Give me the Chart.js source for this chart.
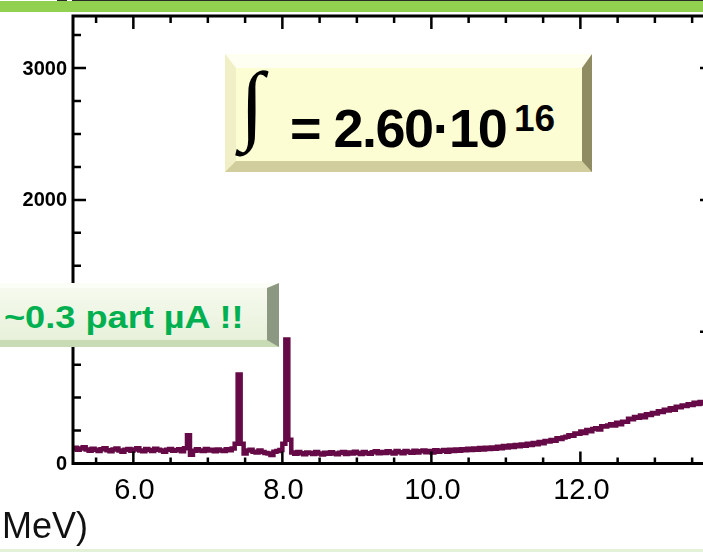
<!DOCTYPE html>
<html>
<head>
<meta charset="utf-8">
<script src="https://cdn.jsdelivr.net/npm/chart.js@4.4.0/dist/chart.umd.min.js"></script>
<style>
  html, body { margin: 0; padding: 0; background: #fff; overflow: hidden; width: 703px; height: 552px; position: relative; }
  #spectrum { position: absolute; left: 0; top: 0; }
  #topRule { position: absolute; left: 72px; top: 0; width: 640px; height: 1px; background: #2a2a2a; }
  #topRuleStub { position: absolute; left: 57px; top: 0; width: 10px; height: 1px; background: #2a2a2a; }
  #topBar { position: absolute; left: 0; top: 1px; width: 703px; height: 11px; background: #92d050; }
  #bottomRule { position: absolute; left: 0; top: 549px; width: 703px; height: 3px; background: #e3f1d6; }

  #intBox {
    position: absolute; left: 225px; top: 54px; width: 367px; height: 118px; box-sizing: border-box;
    background: #fdfdd4; border-style: solid; border-width: 14px 10px 11px 11px;
    border-color: #fffff1 #8f8b63 #d2cd9c #f0efc6;
  }
  #intSign { position: absolute; left: 240px; top: 60px; font: 88px/88px "Liberation Serif", "DejaVu Serif", serif; color: #000; }
  #intValue { position: absolute; left: 290px; top: 101px; font: bold 54px/54px "Liberation Sans", Arial, sans-serif; letter-spacing: -1.5px; color: #000; white-space: nowrap; }
  #intExp { position: absolute; left: 514px; top: 100px; font: bold 37px/37px "Liberation Sans", Arial, sans-serif; color: #000; }

  #currentBox {
    position: absolute; left: -20px; top: 283px; width: 299px; height: 64px; box-sizing: border-box;
    background: linear-gradient(#f6faee, #e7f1da); border-style: solid; border-width: 5px 12px 7px 6px;
    border-color: #fbfdf7 #8c9882 #c8dbb4 #eef5e4;
  }
  #currentText { position: absolute; left: 4px; top: 301px; font: bold 32px/32px "Liberation Sans", Arial, sans-serif; color: #00b050; white-space: nowrap; transform: scaleX(1.13); transform-origin: left center; }
  #unitLabel { position: absolute; left: 2px; top: 508px; font: 36px/36px "Liberation Sans", Arial, sans-serif; color: #111; white-space: nowrap; }
</style>
</head>
<body>
<canvas id="spectrum" width="720" height="552"></canvas>
<div id="topRuleStub"></div>
<div id="topRule"></div>
<div id="topBar"></div>
<div id="intBox"></div>
<span id="intSign">∫</span>
<span id="intValue">= 2.60·10</span>
<span id="intExp">16</span>
<div id="currentBox"></div>
<span id="currentText">~0.3 part µA !!</span>
<div id="unitLabel">MeV)</div>
<div id="bottomRule"></div>

<script>
// Energy calibration of the channels (MeV)
const E_START = 5.18;
const E_STEP = 0.04;

// Counts per channel, 5.18 ... 13.78 MeV
const counts = [
  112, 120, 104, 114, 124, 106, 96, 112, 104, 94,     // 5.18
  108, 116, 100, 92, 106, 114, 98, 90, 104, 110,      // 5.58
  96, 106, 116, 98, 92, 110, 102, 94, 112, 104,       // 5.98
  98, 90, 104, 110, 96, 100, 108, 92, 116, 215,       // 6.38
  66, 96, 108, 98, 94, 110, 98, 104, 92, 106,         // 6.78
  98, 94, 108, 100, 114, 150, 675, 150, 76, 98,       // 7.18
  104, 90, 84, 98, 88, 80, 76, 64, 90, 94,            // 7.58
  102, 150, 940, 180, 84, 74, 88, 78, 70, 84,         // 7.98
  80, 72, 88, 76, 68, 82, 74, 86, 76, 70,             // 8.38
  82, 88, 72, 84, 76, 90, 80, 72, 88, 78,             // 8.78
  74, 86, 92, 78, 88, 80, 92, 84, 76, 94,             // 9.18
  86, 78, 94, 88, 82, 96, 84, 92, 98, 86,             // 9.58
  94, 84, 100, 90, 96, 102, 90, 104, 94, 106,         // 9.98
  96, 108, 100, 112, 102, 114, 104, 118, 106, 120,    // 10.38
  110, 122, 112, 128, 116, 132, 122, 136, 126, 140,   // 10.78
  130, 144, 134, 150, 140, 156, 146, 164, 154, 170,   // 11.18
  166, 178, 172, 192, 186, 198, 202, 214, 210, 228,   // 11.58
  226, 242, 232, 254, 244, 262, 268, 258, 282, 280,   // 11.98
  288, 298, 288, 310, 298, 316, 316, 340, 336, 352,   // 12.38
  348, 364, 350, 374, 368, 384, 380, 396, 390, 408,   // 12.78
  402, 420, 408, 430, 426, 440, 436, 450, 444, 460,   // 13.18
  452, 466, 456, 470, 466, 474                        // 13.58
];

// Axis ticks
const xTickValues = [6, 8, 10, 12];
const xTickLabels = ['6.0', '8.0', '10.0', '12.0'];
const yTickValues = [0, 1000, 2000, 3000];
const yTickLabels = ['0', '1000', '2000', '3000'];
const X_MINOR = 0.5;
const Y_MINOR = 250;

// Boxed frame with inward ticks on all four sides
const frameTicks = {
  id: 'frameTicks',
  afterDatasetsDraw(chart) {
    const { ctx, chartArea: a, scales: { x, y } } = chart;
    ctx.save();
    ctx.strokeStyle = '#000';
    ctx.lineWidth = 3;
    ctx.strokeRect(a.left, a.top, a.right - a.left, a.bottom - a.top);

    ctx.lineWidth = 2.5;
    ctx.beginPath();
    for (let v = Math.ceil(x.min / X_MINOR) * X_MINOR; v <= x.max; v += X_MINOR) {
      const px = x.getPixelForValue(v);
      const major = xTickValues.includes(v);
      ctx.moveTo(px, a.bottom);
      ctx.lineTo(px, a.bottom - (major ? 12 : 6));
      ctx.moveTo(px, a.top);
      ctx.lineTo(px, a.top + (major ? 13 : 7));
    }
    for (let v = Y_MINOR; v <= y.max; v += Y_MINOR) {
      const py = y.getPixelForValue(v);
      const major = yTickValues.includes(v);
      ctx.moveTo(a.left, py);
      ctx.lineTo(a.left + (major ? 13 : 8), py);
      ctx.moveTo(a.right, py);
      ctx.lineTo(a.right - (major ? 13 : 8), py);
    }
    ctx.stroke();

    ctx.fillStyle = '#000';
    ctx.font = '29px "Liberation Sans", Arial, sans-serif';
    ctx.textAlign = 'center';
    ctx.textBaseline = 'alphabetic';
    xTickValues.forEach((v, i) => {
      ctx.fillText(xTickLabels[i], x.getPixelForValue(v) + 1, a.bottom + 35);
    });

    ctx.font = 'bold 20px "Liberation Sans", Arial, sans-serif';
    ctx.textAlign = 'right';
    ctx.textBaseline = 'middle';
    yTickValues.forEach((v, i) => {
      ctx.fillText(yTickLabels[i], a.left - 6, y.getPixelForValue(v) + 1);
    });
    ctx.restore();
  }
};

new Chart(document.getElementById('spectrum'), {
  type: 'line',
  data: {
    datasets: [{
      data: counts.map((c, i) => ({ x: E_START + i * E_STEP, y: c })),
      borderColor: '#650a46',
      borderWidth: 4.5,
      pointRadius: 0,
      stepped: 'middle',
      fill: false
    }]
  },
  options: {
    responsive: false,
    animation: false,
    events: [],
    layout: { padding: { left: 73, right: 7, top: 16, bottom: 88.5 } },
    plugins: { legend: { display: false }, tooltip: { enabled: false } },
    scales: {
      x: { type: 'linear', min: 5.19, max: 13.78, display: false },
      y: { min: 0, max: 3395, display: false }
    }
  },
  plugins: [frameTicks]
});
</script>
</body>
</html>
